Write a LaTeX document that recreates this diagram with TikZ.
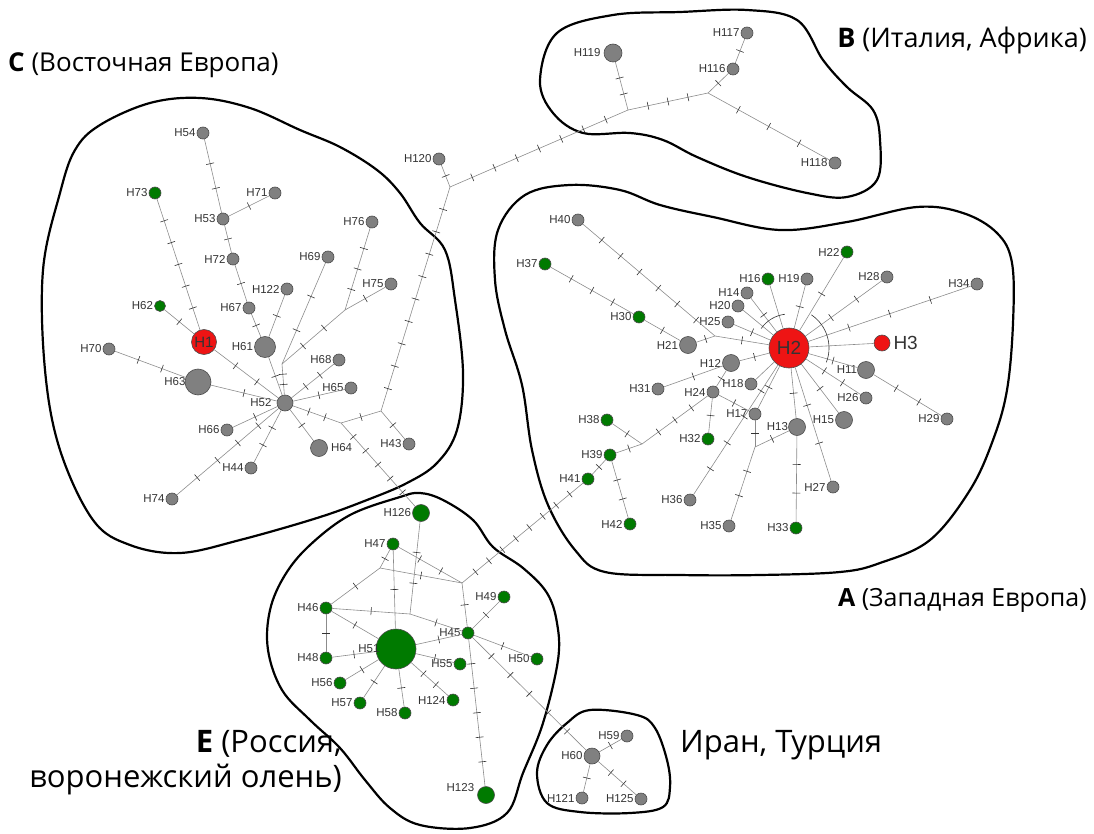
\documentclass[tikz,border=0pt]{standalone}
\usepackage{fontspec}
\setmainfont{Liberation Sans}
\newfontfamily\titlefont{Open Sans}
\usetikzlibrary{decorations.markings}
\definecolor{hapgrey}{RGB}{128,128,128}
\definecolor{hapgreen}{RGB}{0,122,0}
\definecolor{hapred}{RGB}{238,20,20}
\tikzset{
  hap/.style={circle,draw=black!70,line width=0.6pt,inner sep=0pt,minimum size=12pt},
  hgrey/.style={hap,fill=hapgrey},
  hgreen/.style={hap,fill=hapgreen},
  hred/.style={hap,fill=hapred},
  every label/.style={font=\fontsize{11.5}{13}\selectfont,text=black!80,inner sep=1pt},
  tick/.style={draw=black!80,line width=0.6pt},
  mut/.style={postaction={decorate,decoration={markings,
      mark=between positions {1/(#1+1)} and {(#1+0.5)/(#1+1)} step {1/(#1+1)}
      with {\draw[tick] (0pt,-4pt) -- (0pt,4pt);}}}},
  hull/.style={draw=black,line width=2.2pt},
  title/.style={font=\titlefont\fontsize{26}{30}\selectfont,inner sep=0pt}
}
\begin{document}
\begin{tikzpicture}[x=1pt,y=-1pt]
  \useasboundingbox (0,0) rectangle (1094,834);
  % clusters
  \draw[hull] plot[smooth cycle,tension=0.6] coordinates {(100,125) (150,103) (200,98) (250,108) (300,130) (340,147) (377,170) (400,193) (420,223) (445,250) (455,300) (463,373) (457,430) (437,463) (407,483) (367,500) (317,518) (240,540) (180,553) (130,545) (93,520) (60,450) (45,370) (43,270) (60,193) (75,150)};
  \draw[hull] plot[smooth cycle,tension=0.6] coordinates {(557,33) (613,15) (680,12) (747,10) (797,20) (823,60) (847,87) (873,110) (880,140) (877,180) (847,197) (807,193) (747,177) (697,157) (663,140) (630,133) (583,133) (553,113) (540,80)};
  \draw[hull] plot[smooth cycle,tension=0.6] coordinates {(525,195) (570,185) (620,190) (660,205) (713,217) (780,230) (847,222) (917,207) (963,213) (997,233) (1012,263) (1013,323) (1007,390) (993,440) (970,490) (930,540) (880,563) (840,572) (760,575) (680,575) (605,572) (575,550) (548,505) (532,450) (522,385) (505,330) (495,280) (498,230)};
  \draw[hull] plot[smooth cycle,tension=0.6] coordinates {(400,497) (420,493) (443,500) (473,520) (493,547) (523,568) (547,593) (557,623) (558,660) (543,723) (523,773) (507,813) (470,828) (420,825) (390,808) (365,780) (340,748) (310,720) (282,690) (268,650) (270,610) (285,575) (310,545) (350,515)};
  \draw[hull] plot[smooth cycle,tension=0.6] coordinates {(590,710) (637,715) (655,728) (667,760) (670,787) (663,807) (630,813) (580,812) (547,803) (537,773) (547,745) (567,723)};

  % C
  \node[hgrey,label=left:H54] (H54) at (203,133) {};
  \node[hgreen,label=left:H73] (H73) at (155,193) {};
  \node[hgrey,label=left:H71] (H71) at (275,193) {};
  \node[hgrey,label=left:H53] (H53) at (223,219) {};
  \node[hgrey,label=left:H72] (H72) at (233,259) {};
  \node[hgrey,label=left:H122] (H122) at (287,289) {};
  \node[hgreen,minimum size=11pt,label=left:H62] (H62) at (160,306) {};
  \node[hgrey,label=left:H67] (H67) at (249,308) {};
  \node[hred,minimum size=25pt,font=\fontsize{15}{16}\selectfont,text=black!80] (H1) at (204,342) {H1};
  \node[hgrey,minimum size=21pt,label=left:H61] (H61) at (265,347) {};
  \node[hgrey,label=left:H70] (H70) at (109,349) {};
  \node[hgrey,minimum size=26pt,label={[label distance=-2pt]left:H63}] (H63) at (198,382) {};
  \node[hgrey,minimum size=16pt,label={[label distance=4pt]left:H52}] (H52) at (285,403) {};
  \node[hgrey,label=left:H66] (H66) at (227,430) {};
  \node[hgrey,label=left:H44] (H44) at (251,468) {};
  \node[hgrey,label=left:H74] (H74) at (172,499) {};
  \node[hgrey,minimum size=17pt,label={[label distance=2pt]right:H64}] (H64) at (319,448) {};
  \node[hgrey,label=left:H68] (H68) at (339,360) {};
  \node[hgrey,label=left:H65] (H65) at (351,388) {};
  \node[hgrey,label=left:H43] (H43) at (409,444) {};
  \node[hgrey,label=left:H69] (H69) at (328,257) {};
  \node[hgrey,label=left:H76] (H76) at (372,222) {};
  \node[hgrey,label=left:H75] (H75) at (391,284) {};
  \node[hgrey,label=left:H120] (H120) at (439,159) {};
  \coordinate (J1) at (282,364);
  \coordinate (J2) at (345,310);
  \coordinate (J3) at (341,423);
  \coordinate (J4) at (381,411);
  \coordinate (J5) at (450,187);

  % B
  \node[hgrey,minimum size=18pt,label={[label distance=2pt]left:H119}] (H119) at (613,53) {};
  \node[hgrey,label=left:H116] (H116) at (733,69) {};
  \node[hgrey,label=left:H117] (H117) at (747,33) {};
  \node[hgrey,label=left:H118] (H118) at (835,163) {};
  \coordinate (JB1) at (628,110);
  \coordinate (JB2) at (708,93);

  % A
  \node[hred,minimum size=40pt,font=\fontsize{19}{20}\selectfont,text=black!80] (H2) at (789,348) {H2};
  \node[hred,minimum size=16pt,label={[font=\fontsize{19}{20}\selectfont,label distance=2pt]right:H3}] (H3) at (882,343) {};
  \node[hgrey,label=left:H40] (H40) at (578,220) {};
  \node[hgreen,label=left:H37] (H37) at (545,264) {};
  \node[hgreen,label=left:H30] (H30) at (639,317) {};
  \node[hgrey,minimum size=17pt,label=left:H21] (H21) at (688,345) {};
  \node[hgreen,label=left:H16] (H16) at (768,279) {};
  \node[hgrey,label=left:H14] (H14) at (747,293) {};
  \node[hgrey,label=left:H20] (H20) at (738,306) {};
  \node[hgrey,label=left:H25] (H25) at (728,322) {};
  \node[hgrey,label=left:H19] (H19) at (807,279) {};
  \node[hgreen,label=left:H22] (H22) at (847,252) {};
  \node[hgrey,label=left:H28] (H28) at (887,277) {};
  \node[hgrey,label=left:H34] (H34) at (977,284) {};
  \node[hgrey,minimum size=17pt,label=left:H12] (H12) at (731,363) {};
  \node[hgrey,label=left:H31] (H31) at (658,389) {};
  \node[hgrey,label=left:H24] (H24) at (713,392) {};
  \node[hgrey,label=left:H18] (H18) at (751,384) {};
  \node[hgrey,minimum size=17pt,label={[label distance=-1pt]left:H11}] (H11) at (866,370) {};
  \node[hgrey,label=left:H26] (H26) at (866,398) {};
  \node[hgrey,label=left:H29] (H29) at (947,419) {};
  \node[hgrey,minimum size=17pt,label=left:H15] (H15) at (844,420) {};
  \node[hgrey,minimum size=17pt,label={[label distance=-1pt]left:H13}] (H13) at (797,427) {};
  \node[hgrey,label=left:H17] (H17) at (755,414) {};
  \node[hgrey,label=left:H27] (H27) at (833,487) {};
  \node[hgreen,label=left:H33] (H33) at (796,528) {};
  \node[hgrey,label=left:H35] (H35) at (729,526) {};
  \node[hgrey,label=left:H36] (H36) at (690,500) {};
  \node[hgreen,label=left:H32] (H32) at (708,439) {};
  \node[hgreen,label=left:H38] (H38) at (607,420) {};
  \node[hgreen,label=left:H39] (H39) at (610,455) {};
  \node[hgreen,label=left:H41] (H41) at (588,479) {};
  \node[hgreen,label=left:H42] (H42) at (630,524) {};
  \coordinate (JA1) at (642,444);
  \coordinate (JA2) at (755,447);
  \coordinate (JA3) at (715,336);

  % E
  \node[hgreen,minimum size=17pt,label=left:H126] (H126) at (421,513) {};
  \node[hgreen,label=left:H47] (H47) at (393,544) {};
  \node[hgreen,label=left:H46] (H46) at (326,608) {};
  \node[hgreen,label=left:H48] (H48) at (326,658) {};
  \node[hgreen,minimum size=40pt] (H51) at (396,649) {};
  \node[hgreen,label=left:H45] (H45) at (468,633) {};
  \node[hgreen,label=left:H49] (H49) at (504,597) {};
  \node[hgreen,label=left:H50] (H50) at (537,659) {};
  \node[hgreen,label=left:H55] (H55) at (460,664) {};
  \node[hgreen,label=left:H56] (H56) at (340,683) {};
  \node[hgreen,label=left:H57] (H57) at (360,703) {};
  \node[hgreen,label=left:H58] (H58) at (405,713) {};
  \node[hgreen,label=left:H124] (H124) at (453,700) {};
  \node[hgreen,minimum size=17pt,label={[label distance=2pt]170:H123}] (H123) at (486,795) {};
  \coordinate (JE1) at (410,614);
  \coordinate (JE2) at (462,583);
  \coordinate (JE3) at (380,568);

  % Iran
  \node[hgrey,minimum size=16pt,label=left:H60] (H60) at (592,756) {};
  \node[hgrey,label=left:H59] (H59) at (627,736) {};
  \node[hgrey,label=left:H121] (H121) at (582,798) {};
  \node[hgrey,label=left:H125] (H125) at (641,799) {};

  \begin{scope}[every edge/.style={draw=black!45,line width=0.6pt}]
    % C
    \path (H54) edge[mut=2] (H53);
    \path (H53) edge[mut=1] (H71);
    \path (H53) edge[mut=1] (H72);
    \path (H72) edge[mut=1] (H67);
    \path (H67) edge[mut=1] (H61);
    \path (H122) edge[mut=1] (H61);
    \path (H61) edge[mut=1] (H52);
    \path (H73) edge[mut=5] (H1);
    \path (H62) edge[mut=1] (H1);
    \path (H1) edge[mut=2] (H52);
    \path (H70) edge[mut=2] (H63);
    \path (H63) edge[mut=1] (H52);
    \path (H66) edge[mut=1] (H52);
    \path (H74) edge[mut=4] (H52);
    \path (H44) edge[mut=2] (H52);
    \path (H64) edge[mut=1] (H52);
    \path (H65) edge[mut=1] (H52);
    \path (H68) edge[mut=2] (H52);
    \path (H69) edge[mut=2] (J1);
    \path (J1) edge[mut=2] (H52);
    \path (J2) edge[mut=2] (J1);
    \path (H76) edge[mut=3] (J2);
    \path (H75) edge[mut=1] (J2);
    \path (H52) edge[mut=2] (J3);
    \path (J3) edge[mut=1] (J4);
    \path (J4) edge[mut=1] (H43);
    \path (J4) edge[mut=9] (J5);
    \path (J5) edge[mut=1] (H120);
    \path (J3) edge[mut=5] (H126);
    % B
    \path (J5) edge[mut=7] (JB1);
    \path (JB1) edge[mut=2] (H119);
    \path (JB1) edge[mut=3] (JB2);
    \path (JB2) edge[mut=1] (H116);
    \path (H116) edge[mut=1] (H117);
    \path (JB2) edge[mut=3] (H118);
    % A
    \path (H40) edge[mut=6] (JA3);
    \path (H21) edge[mut=1] (JA3);
    \path (JA3) edge[mut=1] (H2);
    \path (H37) edge[mut=3] (H30);
    \path (H30) edge[mut=1] (H21);
    \path (H16) edge (H2);
    \path (H14) edge[mut=1] (H2);
    \path (H20) edge (H2);
    \path (H25) edge[mut=1] (H2);
    \path (H19) edge[mut=1] (H2);
    \path (H22) edge[mut=1] (H2);
    \path (H28) edge[mut=2] (H2);
    \path (H34) edge[mut=3] (H2);
    \path (H2) edge (H3);
    \path (H12) edge[mut=1] (H2);
    \path (H31) edge[mut=1] (H12);
    \path (H24) edge[mut=1] (H12);
    \path (H18) edge (H2);
    \path (H17) edge[mut=1] (H2);
    \path (H24) edge[mut=1] (H17);
    \path (H11) edge[mut=1] (H2);
    \path (H26) edge[mut=2] (H2);
    \path (H11) edge[mut=2] (H29);
    \path (H15) edge[mut=1] (H2);
    \path (H13) edge[mut=1] (H2);
    \path (H27) edge[mut=2] (H2);
    \path (H13) edge[mut=2] (H33);
    \path (H17) edge[mut=1] (JA2);
    \path (H13) edge[mut=1] (JA2);
    \path (JA2) edge[mut=2] (H35);
    \path (H36) edge[mut=4] (H2);
    \path (H24) edge[mut=1] (H32);
    \path (JA1) edge[mut=3] (H24);
    \path (JA1) edge[mut=1] (H38);
    \path (JA1) edge[mut=1] (H39);
    \path (H39) edge[mut=1] (H41);
    \path (H39) edge[mut=2] (H42);
    \path (H41) edge[mut=8] (JE2);
    % E
    \path (H126) edge[mut=2] (JE1);
    \path (H47) edge[mut=1] (H51);
    \path (H47) edge[mut=2] (JE2);
    \path (H47) edge[mut=1] (JE3);
    \path (JE3) edge[mut=1] (H46);
    \path (JE3) edge[mut=1] (JE2);
    \path (JE2) edge[mut=1] (H45);
    \path (H46) edge[mut=1] (H48);
    \path (H46) edge[mut=1] (JE1);
    \path (JE1) edge[mut=1] (H45);
    \path (H46) edge[mut=1] (H51);
    \path (H48) edge[mut=1] (H51);
    \path (H51) edge[mut=1] (H45);
    \path (H45) edge[mut=1] (H49);
    \path (H45) edge[mut=1] (H50);
    \path (H51) edge[mut=1] (H55);
    \path (H51) edge[mut=1] (H56);
    \path (H51) edge[mut=1] (H57);
    \path (H51) edge[mut=1] (H58);
    \path (H51) edge[mut=2] (H124);
    \path (H45) edge[mut=5] (H123);
    \path (H45) edge[mut=5] (H60);
    % Iran
    \path (H60) edge[mut=1] (H59);
    \path (H60) edge[mut=1] (H121);
    \path (H60) edge[mut=2] (H125);
  \end{scope}
  \node[font=\fontsize{11.5}{13}\selectfont,text=black!80,anchor=east,inner sep=0pt] (H51lab) at ([xshift=4pt]H51.west) {H51};

  \draw[black!80,line width=0.6pt] (H2.center) ++(-97:34) arc[start angle=-97,end angle=-145,radius=34];
  \draw[black!80,line width=0.6pt] (H2.center) ++(-56:40) arc[start angle=-56,end angle=21,radius=40];

  \node[title,anchor=west] (tC) at (8,65) {\textbf{C} (Восточная Европа)};
  \node[title,anchor=east,font=\titlefont\fontsize{27}{30}\selectfont] (tB) at (1087,40) {\textbf{B} (Италия, Африка)};
  \node[title,anchor=east,font=\titlefont\fontsize{25}{30}\selectfont] (tA) at (1087,600) {\textbf{A} (Западная Европа)};
  \node[title,anchor=east,align=right,font=\titlefont\fontsize{31}{35}\selectfont] (tE) at (342,763) {\textbf{E} (Россия,\\воронежский олень)};
  \node[title,anchor=west,font=\titlefont\fontsize{31}{34}\selectfont] (tI) at (680,745) {Иран, Турция};
\end{tikzpicture}
\end{document}
